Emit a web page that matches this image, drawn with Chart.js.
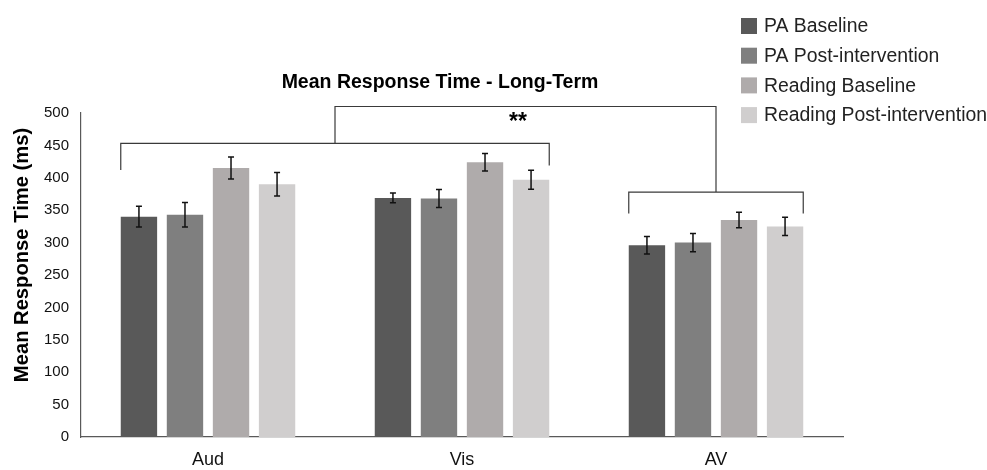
<!DOCTYPE html>
<html>
<head>
<meta charset="utf-8">
<title>Mean Response Time - Long-Term</title>
<script src="https://cdn.jsdelivr.net/npm/chart.js@4"></script>
<style>
  html, body { margin: 0; padding: 0; background: #fff; }
  #wrap { width: 987px; height: 470px; }
</style>
</head>
<body>
<div id="wrap"><canvas id="rtChart" width="987" height="470"></canvas></div>
<script>
const categories = ["Aud", "Vis", "AV"];
const seriesNames = ["PA Baseline", "PA Post-intervention", "Reading Baseline", "Reading Post-intervention"];

// mean response time (ms) per condition
const paBaseline = [340, 369, 296];
const paPost = [343, 368, 300];
const readingBaseline = [415, 424, 335];
const readingPost = [390, 397, 325];

// error bar half-lengths (ms)
const paBaselineErr = [16, 7.5, 13.5];
const paPostErr = [19, 14, 14];
const readingBaselineErr = [17, 13.5, 12];
const readingPostErr = [18, 14.5, 14];

const yTicks = [0, 50, 100, 150, 200, 250, 300, 350, 400, 450, 500];

// significance brackets, in category index and ms
const bracketGroups = [
    { from: 0, to: 1, top: 453, legs: [412, 419] },
    { from: 2, to: 2, top: 378, legs: [345, 345] }
];
const linkTop = 510;
const sigLabel = "**";

const colors = ["#595959", "#7f7f7f", "#afabab", "#d0cece"];
const values = [paBaseline, paPost, readingBaseline, readingPost];
const errors = [paBaselineErr, paPostErr, readingBaselineErr, readingPostErr];

const FONT = "'Liberation Sans', Arial, Helvetica, sans-serif";

const errorBars = {
    id: "errorBars",
    afterDatasetsDraw(chart) {
        const ctx = chart.ctx;
        const y = chart.scales.y;
        ctx.save();
        ctx.strokeStyle = "#111";
        ctx.lineWidth = 1.5;
        chart.data.datasets.forEach((ds, di) => {
            const meta = chart.getDatasetMeta(di);
            meta.data.forEach((bar, i) => {
                const v = ds.data[i], e = errors[di][i];
                const yTop = y.getPixelForValue(v + e);
                const yBot = y.getPixelForValue(v - e);
                ctx.beginPath();
                ctx.moveTo(bar.x, yTop); ctx.lineTo(bar.x, yBot);
                ctx.moveTo(bar.x - 3, yTop); ctx.lineTo(bar.x + 3, yTop);
                ctx.moveTo(bar.x - 3, yBot); ctx.lineTo(bar.x + 3, yBot);
                ctx.stroke();
            });
        });
        ctx.restore();
    }
};

const extras = {
    id: "extras",
    afterDraw(chart) {
        const ctx = chart.ctx;
        const y = chart.scales.y;
        const first = chart.getDatasetMeta(0).data;
        const last = chart.getDatasetMeta(chart.data.datasets.length - 1).data;

        // brackets
        ctx.save();
        ctx.strokeStyle = "#3a3a3a";
        ctx.lineWidth = 1.2;
        const mids = [];
        bracketGroups.forEach(b => {
            const x0 = first[b.from].x - first[b.from].width / 2;
            const x1 = last[b.to].x + last[b.to].width / 2;
            const yt = y.getPixelForValue(b.top);
            ctx.beginPath();
            ctx.moveTo(x0, y.getPixelForValue(b.legs[0]));
            ctx.lineTo(x0, yt);
            ctx.lineTo(x1, yt);
            ctx.lineTo(x1, y.getPixelForValue(b.legs[1]));
            ctx.stroke();
            mids.push({ x: (x0 + x1) / 2, y: yt });
        });
        const yl = y.getPixelForValue(linkTop);
        ctx.beginPath();
        ctx.moveTo(mids[0].x, mids[0].y);
        ctx.lineTo(mids[0].x, yl);
        ctx.lineTo(mids[1].x, yl);
        ctx.lineTo(mids[1].x, mids[1].y);
        ctx.stroke();

        ctx.fillStyle = "#000";
        ctx.font = "bold 23px " + FONT;
        ctx.textAlign = "center";
        ctx.textBaseline = "alphabetic";
        ctx.fillText(sigLabel, mids[0].x + (mids[1].x - mids[0].x) * 0.48, yl + 22);

        // title
        ctx.font = "bold 19.5px " + FONT;
        ctx.textBaseline = "middle";
        ctx.fillText("Mean Response Time - Long-Term", 440, 83);

        // y axis title
        ctx.save();
        ctx.translate(22, 255);
        ctx.rotate(-Math.PI / 2);
        ctx.font = "bold 20.2px " + FONT;
        ctx.fillText("Mean Response Time (ms)", 0, 0);
        ctx.restore();

        // legend
        ctx.textAlign = "left";
        ctx.font = "19.4px " + FONT;
        chart.data.datasets.forEach((ds, i) => {
            const cy = 26 + i * 29.7;
            ctx.fillStyle = ds.backgroundColor;
            ctx.fillRect(741, cy - 8, 16, 16);
            ctx.fillStyle = "#222";
            ctx.fillText(ds.label, 764, cy + 1);
        });
        ctx.restore();
    }
};

new Chart(document.getElementById("rtChart"), {
    type: "bar",
    data: {
        labels: categories,
        datasets: seriesNames.map((name, i) => ({
            label: name,
            data: values[i],
            backgroundColor: colors[i],
            borderWidth: 0,
            categoryPercentage: 0.725,
            barPercentage: 0.79
        }))
    },
    options: {
        responsive: false,
        animation: false,
        devicePixelRatio: 1,
        layout: { padding: { top: 113, right: 144, bottom: 0, left: 0 } },
        plugins: {
            legend: { display: false },
            title: { display: false },
            tooltip: { enabled: false }
        },
        scales: {
            x: {
                grid: { display: false, drawTicks: false },
                border: { display: true, color: "#595959", width: 1.2 },
                ticks: { color: "#111", font: { family: FONT, size: 18 }, padding: 12 },
                afterFit(scale) { scale.height = 33; }
            },
            y: {
                min: 0,
                max: 500,
                grid: { display: false, drawTicks: false },
                border: { display: true, color: "#595959", width: 1.2 },
                ticks: { color: "#111", font: { family: FONT, size: 15 }, padding: 12 },
                afterBuildTicks(scale) { scale.ticks = yTicks.map(v => ({ value: v })); },
                afterFit(scale) { scale.width = 81; }
            }
        }
    },
    plugins: [errorBars, extras]
});
</script>
</body>
</html>
